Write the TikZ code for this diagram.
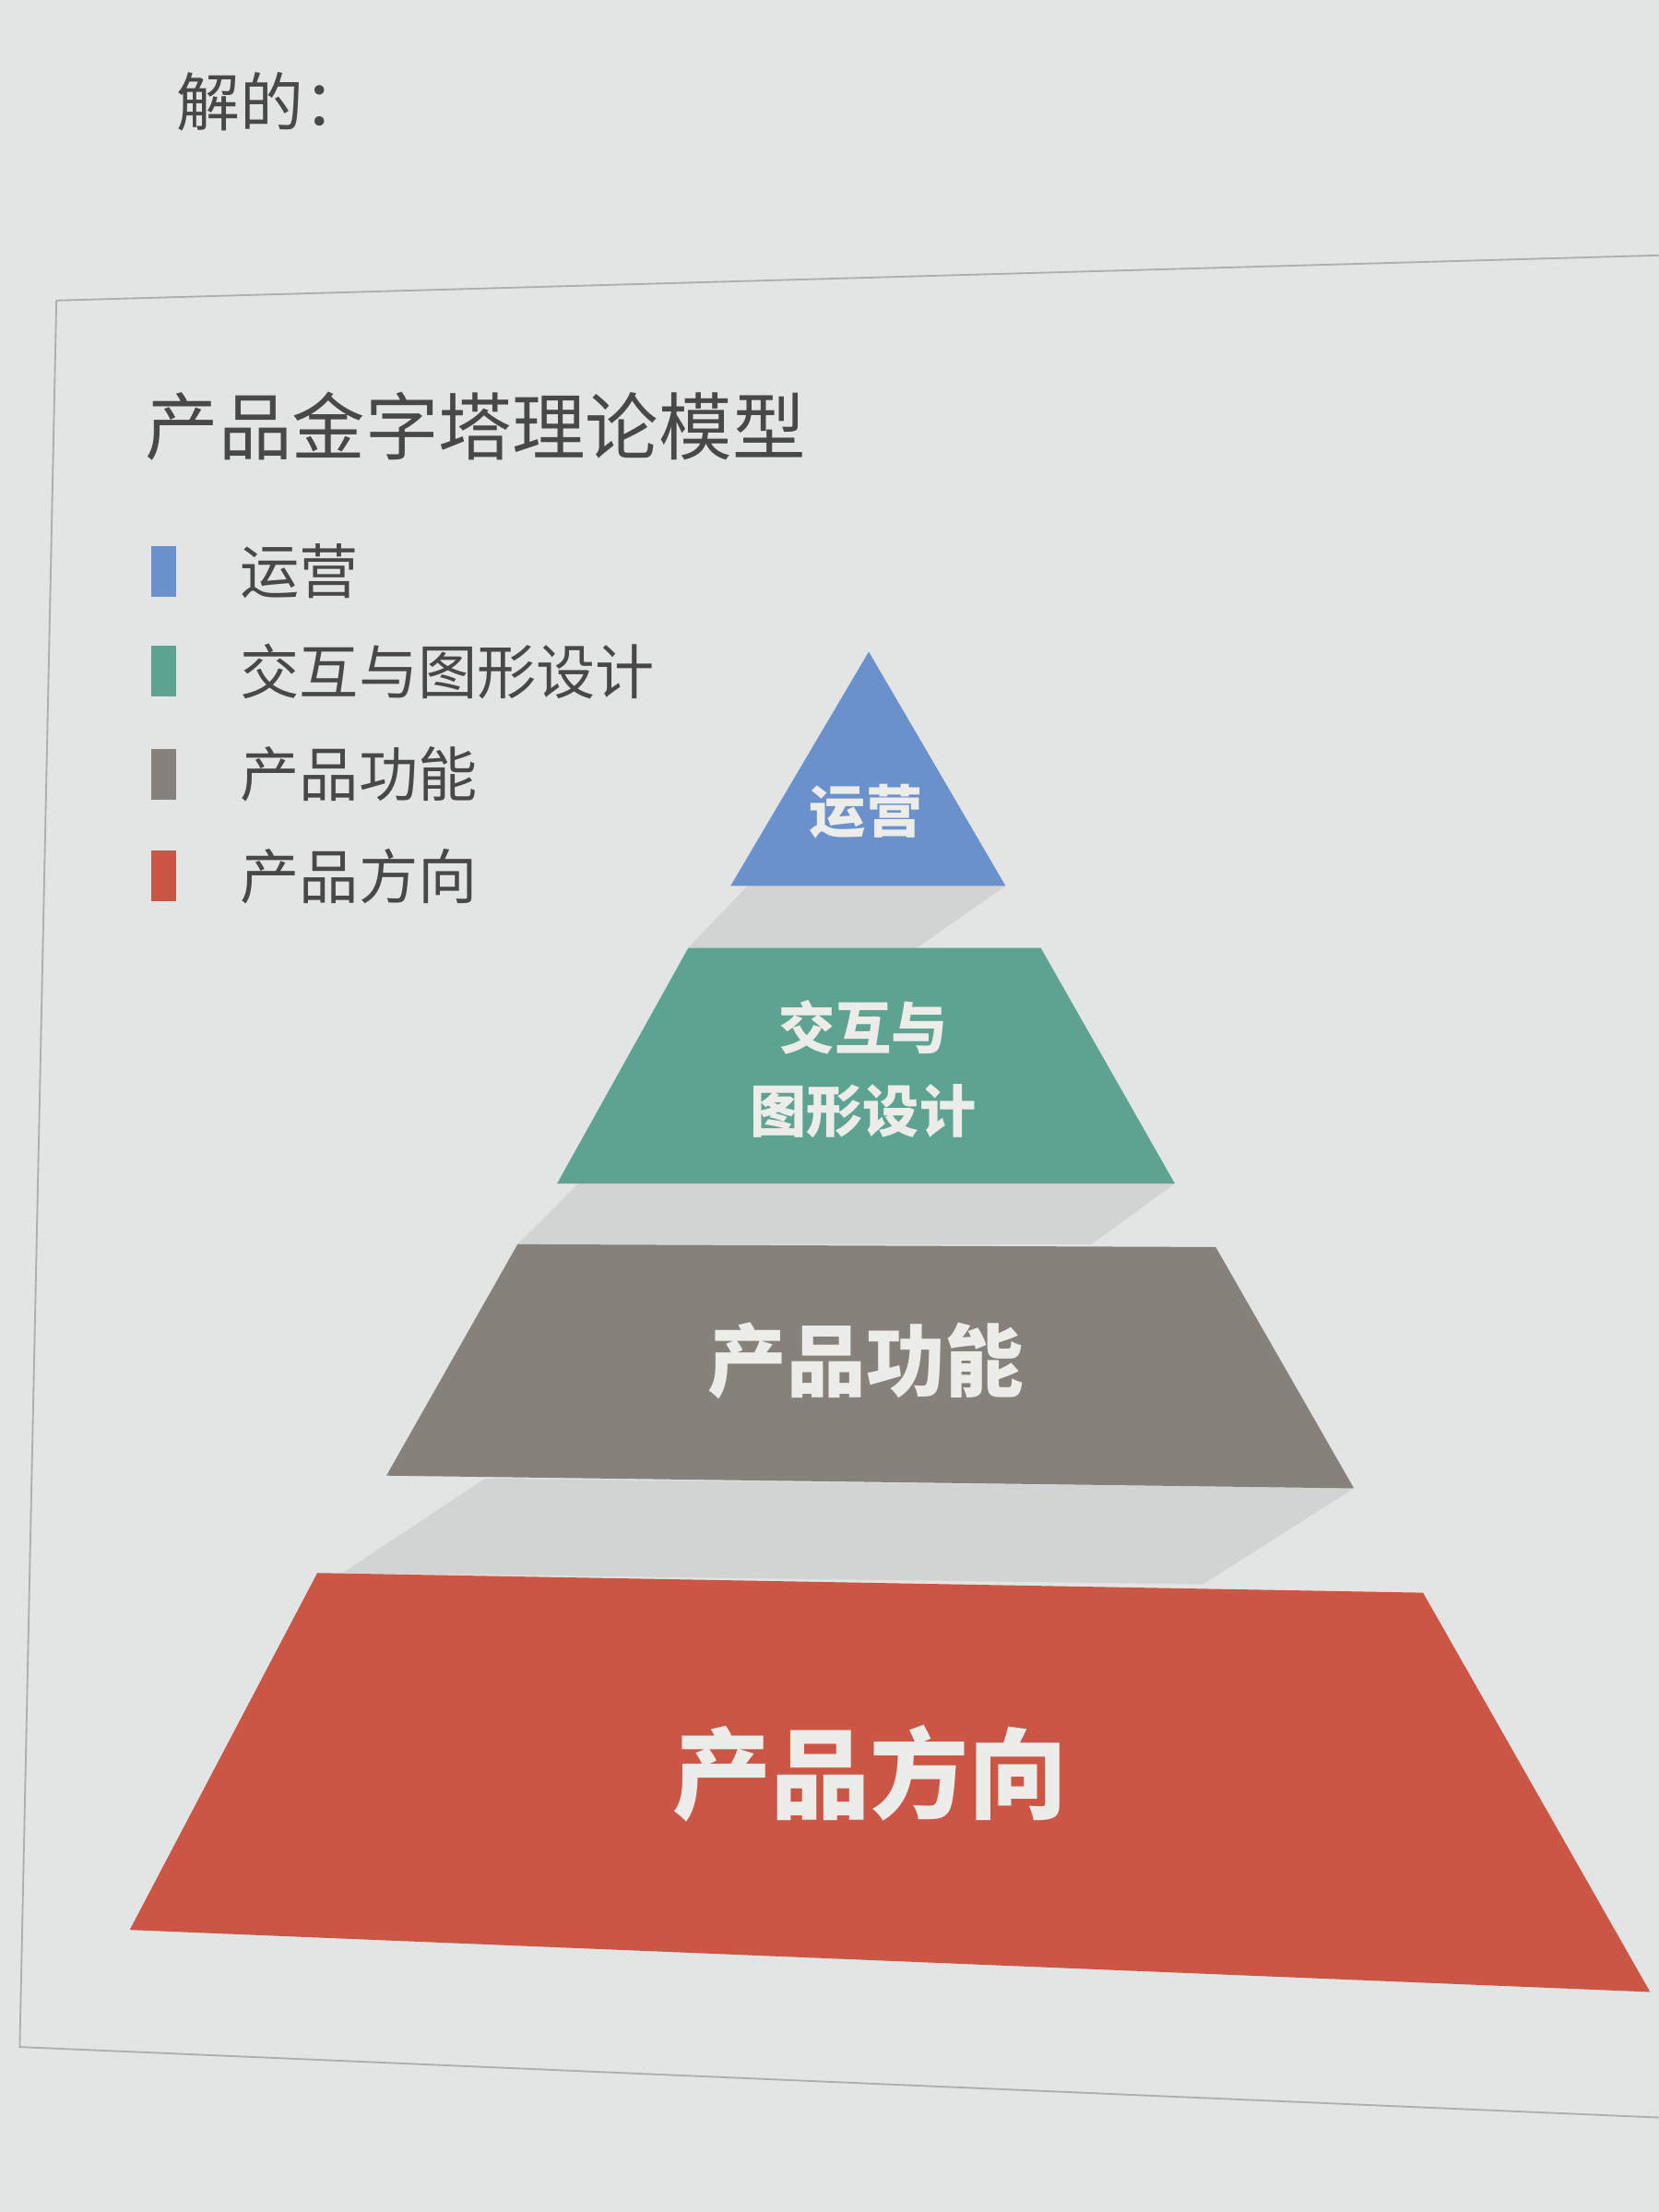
\documentclass[tikz,border=0pt]{standalone}
\usepackage{fontspec}
\setmainfont{Noto Sans CJK SC}
\usepackage{tikz}
\usetikzlibrary{positioning}

\definecolor{paper}{RGB}{226,229,227}
\definecolor{framegray}{RGB}{172,175,173}
\definecolor{shadowgray}{RGB}{209,212,210}
\definecolor{ink}{RGB}{72,72,72}
\definecolor{snow}{RGB}{236,236,232}
\definecolor{opsblue}{RGB}{106,145,203}
\definecolor{uxgreen}{RGB}{94,163,146}
\definecolor{funcgray}{RGB}{134,129,123}
\definecolor{dirred}{RGB}{204,86,70}

\begin{document}
\begin{tikzpicture}[x=1pt,y=-1pt,
	legbox/.style={minimum width=18pt, minimum height=36pt, inner sep=0pt},
	legtext/.style={inner sep=0pt, text=ink, font=\fontsize{42}{48}\selectfont},
	lvltext/.style={inner sep=0pt, text=snow, align=center}]

	\useasboundingbox (0,0) rectangle (1176,1568);
	\fill[paper] (0,0) rectangle (1176,1568);

	% page text and frame
	\node[anchor=west, inner sep=0pt, text=ink, font=\fontsize{45}{50}\selectfont] (intro) at (125,72) {解的：};
	\draw[framegray, line width=1.2pt] (40,213) -- (1176,181);
	\draw[framegray, line width=1.2pt] (40,213) -- (14,1451) -- (1176,1501);

	\node[anchor=west, inner sep=0pt, text=ink, font=\fontsize{52}{60}\selectfont] (title) at (103,302) {产品金字塔理论模型};

	% legend
	\node[legbox, fill=opsblue] (legops) at (116,405) {};
	\node[legtext, right=45pt of legops] (legopstext) {运营};
	\node[legbox, fill=uxgreen] (legux) at (116,476) {};
	\node[legtext, right=45pt of legux] (leguxtext) {交互与图形设计};
	\node[legbox, fill=funcgray] (legfunc) at (116,549) {};
	\node[legtext, right=45pt of legfunc] (legfunctext) {产品功能};
	\node[legbox, fill=dirred] (legdir) at (116,621) {};
	\node[legtext, right=45pt of legdir] (legdirtext) {产品方向};

	% shadows under the layers
	\fill[shadowgray] (530,628) -- (713,628) -- (650,672) -- (488,672) -- cycle;
	\fill[shadowgray] (410,839) -- (833,839) -- (774,882) -- (367,882) -- cycle;
	\fill[shadowgray] (344,1048) -- (960,1055) -- (853,1123) -- (243,1115) -- cycle;

	% pyramid layers
	\fill[opsblue] (616,462) -- (713,628) -- (518,628) -- cycle;
	\fill[uxgreen] (488,672) -- (738,672) -- (833,839) -- (395,839) -- cycle;
	\fill[funcgray] (367,882) -- (862,884) -- (960,1055) -- (274,1046) -- cycle;
	\fill[dirred] (225,1115) -- (1009,1129) -- (1170,1412) -- (92,1368) -- cycle;

	\node[lvltext, font=\bfseries\fontsize{40}{48}\selectfont] (lvlops) at (614,575) {运营};
	\node[lvltext, font=\bfseries\fontsize{40}{59}\selectfont] (lvlux) at (612,758) {交互与\\图形设计};
	\node[lvltext, font=\bfseries\fontsize{56}{64}\selectfont] (lvlfunc) at (614,965) {产品功能};
	\node[lvltext, font=\bfseries\fontsize{70}{80}\selectfont] (lvldir) at (617,1257) {产品方向};
\end{tikzpicture}
\end{document}
